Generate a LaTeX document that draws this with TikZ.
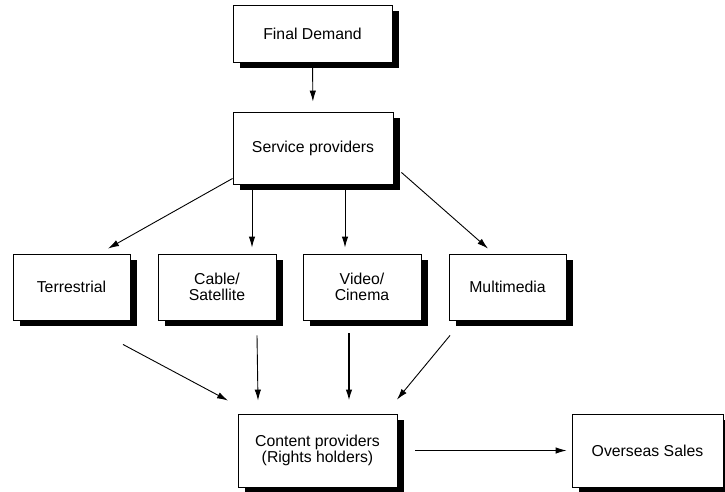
\documentclass[tikz,border=0pt]{standalone}
\usepackage{fontspec}
\setmainfont{Liberation Sans}
\usetikzlibrary{arrows.meta,shadows}
\begin{document}
\begin{tikzpicture}[x=1pt,y=-1pt,
  box/.style={draw=black, line width=0.9pt, fill=white, inner sep=0pt, align=center,
    font=\fontsize{15.8}{16}\selectfont,
    general shadow={shadow xshift=7pt, shadow yshift=-6pt, fill=black}},
  arr/.style={-{Latex[length=11pt,width=6.5pt]}, line width=0.9pt}]
\useasboundingbox (0,0) rectangle (725,491);
\node[box, minimum width=159pt, minimum height=57pt] (fd) at (312.5,33.5) {Final Demand};
\node[box, minimum width=160pt, minimum height=72pt] (sp) at (313,148) {Service providers};
\node[box, minimum width=117pt, minimum height=66pt] (ter) at (71.5,287) {Terrestrial};
\node[box, minimum width=118pt, minimum height=66pt] (cab) at (217,287) {Cable/\\Satellite};
\node[box, minimum width=118pt, minimum height=66pt] (vid) at (362,287) {Video/\\Cinema};
\node[box, minimum width=117pt, minimum height=66pt] (mm) at (507.5,287) {Multimedia};
\node[box, minimum width=159pt, minimum height=73pt] (cp) at (317.5,450.5) {Content providers\\(Rights holders)};
\node[box, minimum width=151pt, minimum height=73pt] (os) at (647.5,450.5) {Overseas Sales};

\draw[arr, shorten >=10pt] (fd.south) -- (sp.north);
\draw[arr] ([yshift=6pt]sp.south west) -- ([xshift=36.5pt,yshift=5pt]ter.north);
\draw[arr] ([xshift=-61pt]sp.south) -- ([xshift=35pt,yshift=6pt]cab.north);
\draw[arr] ([xshift=32pt]sp.south) -- ([xshift=-17pt,yshift=6pt]vid.north);
\draw[arr] ([xshift=8pt,yshift=12pt]sp.south east) -- ([xshift=-19.5pt,yshift=5pt]mm.north);

\draw[arr] ([xshift=51.5pt,yshift=-24pt]ter.south) -- ([xshift=-89.5pt,yshift=13pt]cp.north);
\draw[arr] ([xshift=40pt,yshift=-15pt]cab.south) -- ([xshift=-59.5pt,yshift=13pt]cp.north);
\draw[arr, line width=1.5pt] ([xshift=-13pt,yshift=-13pt]vid.south) -- ([xshift=31.5pt,yshift=13pt]cp.north);
\draw[arr] ([xshift=-57.5pt,yshift=-15pt]mm.south) -- ([xshift=79.5pt,yshift=14pt]cp.north);

\draw[arr] ([xshift=18pt]cp.east) -- ([xshift=-5pt]os.west);
\end{tikzpicture}
\end{document}
